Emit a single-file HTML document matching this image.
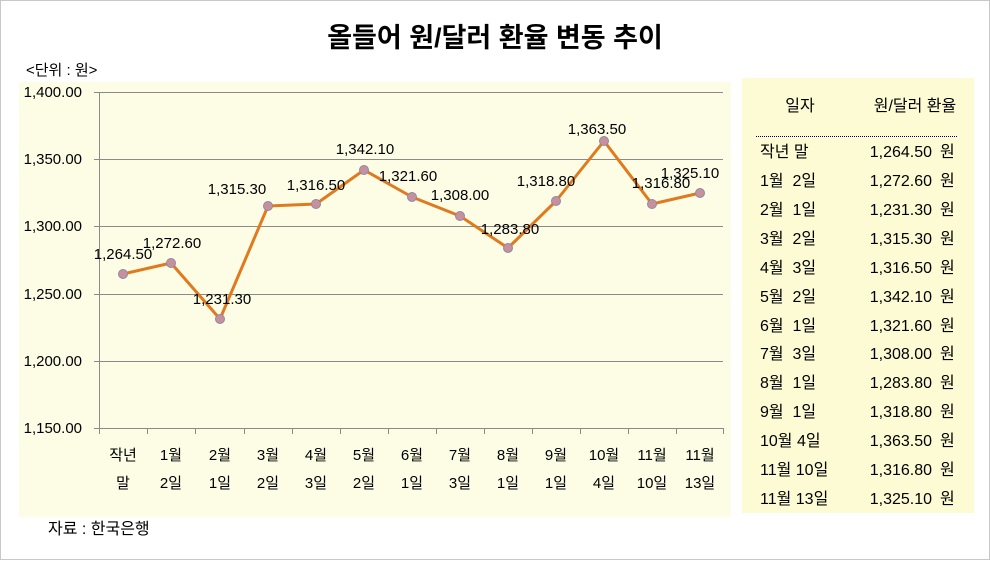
<!DOCTYPE html>
<html><head><meta charset="utf-8"><style>
body{margin:0;width:990px;height:560px;background:#fff;overflow:hidden}
svg text{font-family:"Liberation Sans","Noto Sans CJK KR",sans-serif;fill:#000;white-space:pre}
</style></head><body>
<svg width="990" height="560" xmlns="http://www.w3.org/2000/svg">
<rect x="0.5" y="0.5" width="989" height="559" fill="#fff" stroke="#c8c8c8"/>
<text x="495" y="47" font-size="27" font-weight="bold" text-anchor="middle">올들어 원/달러 환율 변동 추이</text>
<text x="26" y="75" font-size="15">&lt;단위 : 원&gt;</text>
<rect x="19" y="82" width="712" height="435" fill="#fdfde6"/>
<rect x="742" y="78" width="232" height="435" fill="#fdfbd3"/>
<g stroke="#8a8a8a" stroke-width="1">
<line x1="94" y1="92.5" x2="723" y2="92.5"/>
<line x1="94" y1="159.5" x2="723" y2="159.5"/>
<line x1="94" y1="226.5" x2="723" y2="226.5"/>
<line x1="94" y1="294.5" x2="723" y2="294.5"/>
<line x1="94" y1="361.5" x2="723" y2="361.5"/>
<line x1="94" y1="428.5" x2="723" y2="428.5"/>
<line x1="99.5" y1="92" x2="99.5" y2="434"/>
<path d="M147.5 428v6M195.5 428v6M244.5 428v6M292.5 428v6M340.5 428v6M388.5 428v6M436.5 428v6M484.5 428v6M532.5 428v6M580.5 428v6M628.5 428v6M676.5 428v6M723.5 428v6"/>
</g>
<g font-size="15" text-anchor="end">
<text x="82" y="97">1,400.00</text><text x="82" y="164">1,350.00</text><text x="82" y="231">1,300.00</text>
<text x="82" y="299">1,250.00</text><text x="82" y="366">1,200.00</text><text x="82" y="433">1,150.00</text>
</g>
<g font-size="15" text-anchor="middle">
<text x="123" y="460">작년</text><text x="123" y="488">말</text>
<text x="171" y="460">1월</text><text x="171" y="488">2일</text>
<text x="220" y="460">2월</text><text x="220" y="488">1일</text>
<text x="268" y="460">3월</text><text x="268" y="488">2일</text>
<text x="316" y="460">4월</text><text x="316" y="488">3일</text>
<text x="364" y="460">5월</text><text x="364" y="488">2일</text>
<text x="412" y="460">6월</text><text x="412" y="488">1일</text>
<text x="460" y="460">7월</text><text x="460" y="488">3일</text>
<text x="508" y="460">8월</text><text x="508" y="488">1일</text>
<text x="556" y="460">9월</text><text x="556" y="488">1일</text>
<text x="604" y="460">10월</text><text x="604" y="488">4일</text>
<text x="652" y="460">11월</text><text x="652" y="488">10일</text>
<text x="700" y="460">11월</text><text x="700" y="488">13일</text>
</g>
<polyline fill="none" stroke="#e07a1f" stroke-width="3" stroke-linejoin="round" points="123,274 171,263 220,319 268,206 316,204 364,170 412,197 460,216 508,248 556,201 604,141 652,204 700,193"/>
<g fill="#c8909a" stroke="#8a8aa8" stroke-width="1">
<circle cx="123" cy="274" r="4.5"/><circle cx="171" cy="263" r="4.5"/><circle cx="220" cy="319" r="4.5"/>
<circle cx="268" cy="206" r="4.5"/><circle cx="316" cy="204" r="4.5"/><circle cx="364" cy="170" r="4.5"/>
<circle cx="412" cy="197" r="4.5"/><circle cx="460" cy="216" r="4.5"/><circle cx="508" cy="248" r="4.5"/>
<circle cx="556" cy="201" r="4.5"/><circle cx="604" cy="141" r="4.5"/><circle cx="652" cy="204" r="4.5"/>
<circle cx="700" cy="193" r="4.5"/>
</g>
<g font-size="15" text-anchor="middle">
<text x="123" y="259">1,264.50</text><text x="172" y="248">1,272.60</text><text x="222" y="304">1,231.30</text>
<text x="237" y="194">1,315.30</text><text x="316" y="190">1,316.50</text><text x="365" y="154">1,342.10</text>
<text x="408" y="181">1,321.60</text><text x="460" y="200">1,308.00</text><text x="510" y="234">1,283.80</text>
<text x="546" y="186">1,318.80</text><text x="597" y="134">1,363.50</text><text x="661" y="188">1,316.80</text>
<text x="690" y="178">1,325.10</text>
</g>
<text x="48" y="534" font-size="16">자료 : 한국은행</text>
<g font-size="16">
<text x="800" y="111" text-anchor="middle">일자</text>
<text x="915" y="111" text-anchor="middle">원/달러 환율</text>
<line x1="756" y1="136.5" x2="958" y2="136.5" stroke="#000" stroke-dasharray="1,1"/>
<g>
<text x="760" y="157">작년 말</text><text x="760" y="186">1월  2일</text><text x="760" y="215">2월  1일</text>
<text x="760" y="244">3월  2일</text><text x="760" y="273">4월  3일</text><text x="760" y="302">5월  2일</text>
<text x="760" y="331">6월  1일</text><text x="760" y="359">7월  3일</text><text x="760" y="388">8월  1일</text>
<text x="760" y="417">9월  1일</text><text x="760" y="446">10월 4일</text><text x="760" y="475">11월 10일</text>
<text x="760" y="504">11월 13일</text>
</g>
<g text-anchor="end">
<text x="932" y="157">1,264.50</text><text x="932" y="186">1,272.60</text><text x="932" y="215">1,231.30</text>
<text x="932" y="244">1,315.30</text><text x="932" y="273">1,316.50</text><text x="932" y="302">1,342.10</text>
<text x="932" y="331">1,321.60</text><text x="932" y="359">1,308.00</text><text x="932" y="388">1,283.80</text>
<text x="932" y="417">1,318.80</text><text x="932" y="446">1,363.50</text><text x="932" y="475">1,316.80</text>
<text x="932" y="504">1,325.10</text>
</g>
<g>
<text x="940" y="157">원</text><text x="940" y="186">원</text><text x="940" y="215">원</text><text x="940" y="244">원</text>
<text x="940" y="273">원</text><text x="940" y="302">원</text><text x="940" y="331">원</text><text x="940" y="359">원</text>
<text x="940" y="388">원</text><text x="940" y="417">원</text><text x="940" y="446">원</text><text x="940" y="475">원</text>
<text x="940" y="504">원</text>
</g>
</g>
</svg>
</body></html>
